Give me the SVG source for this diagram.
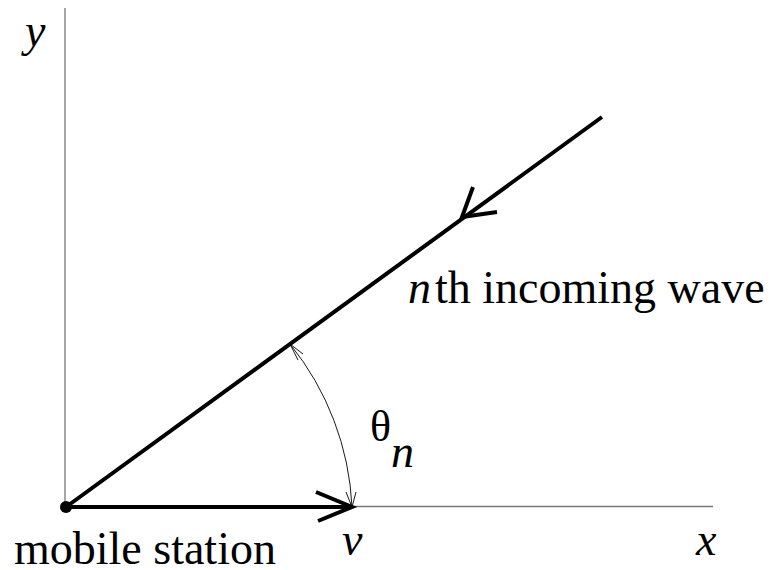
<svg xmlns="http://www.w3.org/2000/svg" width="774" height="570" viewBox="0 0 774 570">
<style>
.axis{stroke:#777;stroke-width:1.3;fill:none}
.thick{stroke:#000;stroke-width:4;fill:none;stroke-linecap:butt}
.thin{stroke:#000;stroke-width:0.9;fill:none}
</style>
<rect width="774" height="570" fill="#fff"/>
<g id="axes">
<line class="axis" x1="65" y1="8" x2="65" y2="507"/>
<line class="axis" x1="66" y1="506.5" x2="713" y2="506.5"/>
<text x="25" y="46" font-family="Liberation Serif" font-size="46" font-style="italic">y</text>
<text x="696" y="555" font-family="Liberation Serif" font-size="46" font-style="italic">x</text>
</g>
<g id="connectors">
<g id="velocity">
<line class="thick" x1="66" y1="507" x2="350" y2="507"/>
<polyline class="thick" points="316,492 352,507 318,521"/>
</g>
<g id="wave">
<line class="thick" x1="66" y1="507" x2="602" y2="117"/>
<polyline class="thick" points="473,187 462,217 497,212"/>
</g>
<g id="angle">
<path class="thin" d="M290,344 A280,280 0 0 1 352,507"/>
<polyline class="thin" points="303,354 290,344 298,360"/>
<polyline class="thin" points="346,492 352,507 356,492"/>
</g>
</g>
<g id="station">
<circle cx="66" cy="507" r="6" fill="#000"/>
<text x="14" y="564" font-family="Liberation Serif" font-size="46">mobile station</text>
</g>
<g id="labels">
<text x="342" y="555" font-family="Liberation Serif" font-size="46" font-style="italic">v</text>
<text x="408" y="303" font-family="Liberation Serif" font-size="46"><tspan font-style="italic">n</tspan><tspan dx="4">th incoming wave</tspan></text>
<text x="370" y="441" font-family="Liberation Serif" font-size="44">θ<tspan font-style="italic" font-size="46" dy="26">n</tspan></text>
</g>
</svg>
